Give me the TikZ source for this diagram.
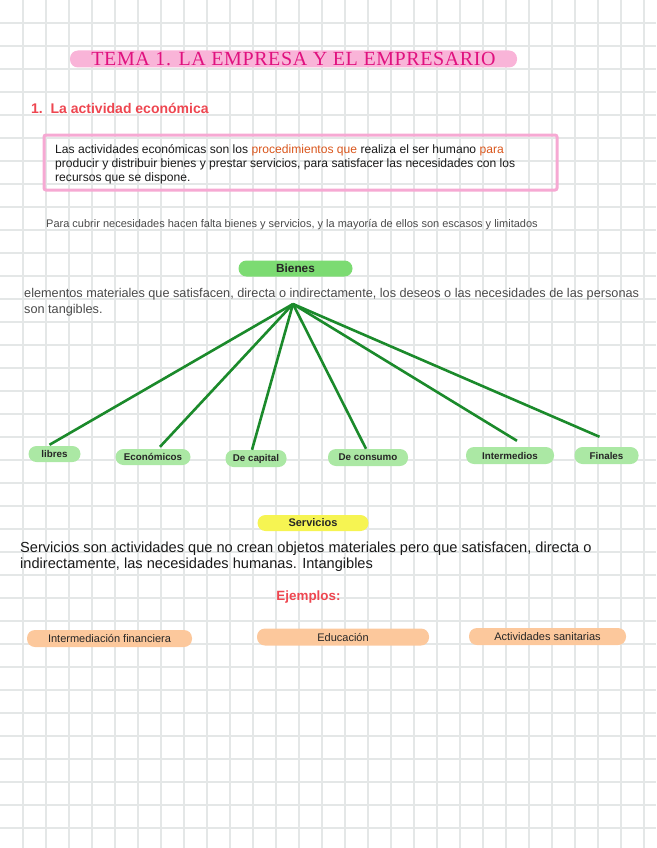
\documentclass[tikz,border=0pt]{standalone}
\usepackage{fontspec}
\setmainfont{Liberation Sans}
\newfontfamily\fuentetitulo[LetterSpace=3]{Liberation Serif}
\usetikzlibrary{positioning, calc}
\definecolor{rejillagris}{HTML}{E4E7E7}
\definecolor{rosatit}{HTML}{F9B4D8}
\definecolor{magentatit}{HTML}{E0117F}
\definecolor{rojotit}{HTML}{EE4650}
\definecolor{rosaborde}{HTML}{F6A9D3}
\definecolor{naranjatxt}{HTML}{D9561C}
\definecolor{verdefuerte}{HTML}{7CDB72}
\definecolor{verdeclaro}{HTML}{ABE8A4}
\definecolor{verderama}{HTML}{1B8A2B}
\definecolor{amarillo}{HTML}{F6F452}
\definecolor{melocoton}{HTML}{FCC89C}
\definecolor{grisoscuro}{HTML}{4A4A4A}
\tikzset{
  rejilla/.style={draw=rejillagris, line width=2pt},
  titulo/.style={rectangle, rounded corners=8pt, fill=rosatit, minimum width=447pt, minimum height=17pt,
                 inner sep=0pt, text=magentatit, font=\fuentetitulo\fontsize{20pt}{22pt}\selectfont},
  seccion/.style={anchor=west, inner sep=0pt, text=rojotit, font=\bfseries\fontsize{14pt}{16pt}\selectfont},
  caja/.style={rectangle, rounded corners=2pt, draw=rosaborde, line width=3pt, minimum width=513pt, minimum height=55pt},
  parrafo/.style={anchor=west, inner sep=0pt, align=left},
  pildora/.style={rectangle, rounded corners=8pt, minimum height=16pt, inner sep=0pt, text=black!85},
  bien/.style={pildora, fill=verdefuerte, minimum width=114pt, font=\bfseries\fontsize{11.8pt}{13pt}\selectfont},
  hoja/.style={pildora, fill=verdeclaro, font=\bfseries\fontsize{9.8pt}{12pt}\selectfont},
  serv/.style={pildora, fill=amarillo, minimum width=111pt, font=\bfseries\fontsize{11pt}{13pt}\selectfont},
  ejemplo/.style={pildora, fill=melocoton, minimum height=17pt, font=\fontsize{11pt}{13pt}\selectfont},
  rama/.style={draw=verderama, line width=2.6pt}
}

\begin{document}
\begin{tikzpicture}[x=1pt, y=-1pt]
  \useasboundingbox (0,0) rectangle (656,848);
  % cuadricula de fondo
  \foreach \i in {0,...,27} \draw [rejilla] (23+23*\i,0) -- (23+23*\i,848);
  \foreach \j in {0,...,35} \draw [rejilla] (0,23+23*\j) -- (656,23+23*\j);

  \node (tit) [titulo] at (293.5,59) {TEMA 1. LA EMPRESA Y EL EMPRESARIO};
  \node (sec) [seccion] at (31,108) {1.\ \ La actividad económica};

  \node (caja) [caja] at (300.5,162.5) {};
  \node (def) [parrafo, font=\fontsize{12.1pt}{14pt}\selectfont, text=black!90] at (55,164)
    {Las actividades económicas son los \textcolor{naranjatxt}{procedimientos que} realiza el ser humano \textcolor{naranjatxt}{para}\\
     producir y distribuir bienes y prestar servicios, para satisfacer las necesidades con los\\
     recursos que se dispone.};

  \node (nec) [parrafo, font=\fontsize{11pt}{12pt}\selectfont, text=grisoscuro] at (46,225)
    {Para cubrir necesidades hacen falta bienes y servicios, y la mayoría de ellos son escasos y limitados};

  % bienes
  \node (bienes) [bien] at (295.5,268.5) {Bienes};
  \node (elem) [parrafo, font=\fontsize{12.7pt}{16pt}\selectfont, text=grisoscuro] at (24,302)
    {elementos materiales que satisfacen, directa o indirectamente, los deseos o las necesidades de las personas\\
     son tangibles.};
  \coordinate (hub) at (293,304);
  \node (libres) [hoja, minimum width=52pt] at (54.5,454) {libres};
  \node (econ) [hoja, minimum width=75pt] at (153,457) {Económicos};
  \node (capital) [hoja, minimum width=61pt, minimum height=17pt] at (256,458.5) {De capital};
  \node (consumo) [hoja, minimum width=80pt, minimum height=17pt] at (368,457.5) {De consumo};
  \node (inter) [hoja, minimum width=88pt, minimum height=17pt] at (510,455.5) {Intermedios};
  \node (finales) [hoja, minimum width=64pt, minimum height=17pt] at (606.5,455.5) {Finales};
  \foreach \n/\dx/\dy in {libres/-5/1, econ/7/2, capital/-4/0, consumo/-2/0, inter/7/6, finales/-7/10}
    \draw [rama] (hub) -- ([xshift=\dx pt, yshift=\dy pt]\n.north);

  % servicios
  \node (servicios) [serv] at (313,523) {Servicios};
  \node (stxt) [parrafo, font=\fontsize{14.6pt}{16pt}\selectfont, text=black!90] at (20,557)
    {Servicios son actividades que no crean objetos materiales pero que satisfacen, directa o\\
     indirectamente, las necesidades humanas. Intangibles};
  \node (ejem) [inner sep=0pt, text=rojotit, font=\bfseries\fontsize{13.4pt}{15pt}\selectfont] at (308.5,597) {Ejemplos:};
  \node (e1) [ejemplo, minimum width=165pt] at (109.5,638.5) {Intermediación financiera};
  \node (e2) [ejemplo, minimum width=172pt] at (343,637) {Educación};
  \node (e3) [ejemplo, minimum width=157pt] at (547.5,636.5) {Actividades sanitarias};
\end{tikzpicture}
\end{document}
